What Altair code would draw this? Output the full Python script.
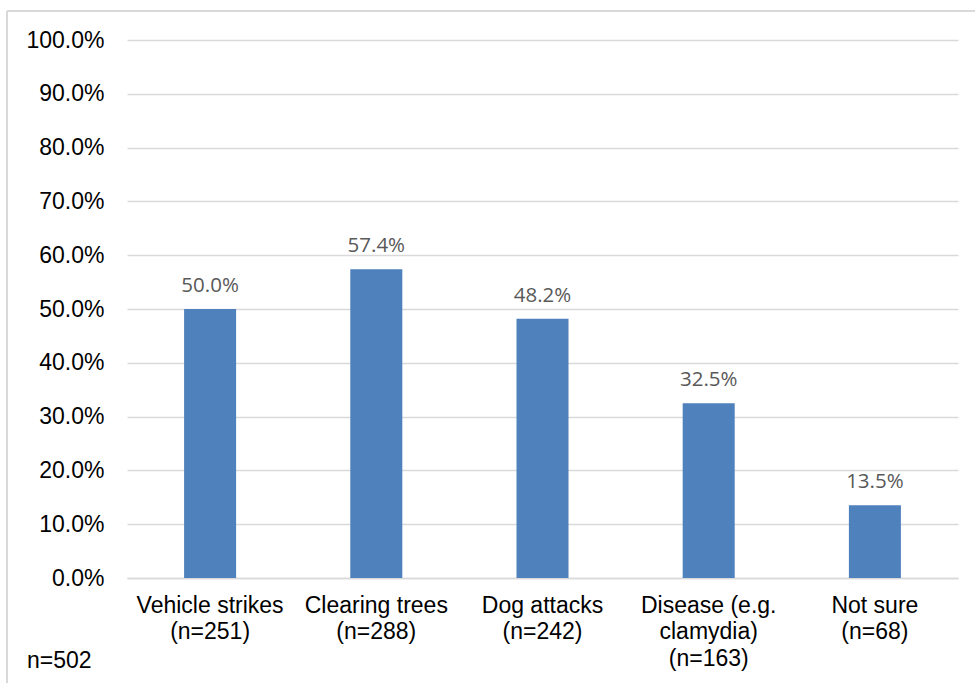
import altair as alt
import pandas as pd

# Survey responses: perceived threats to koalas
categories = [
    "Vehicle strikes|(n=251)",
    "Clearing trees|(n=288)",
    "Dog attacks|(n=242)",
    "Disease (e.g.|clamydia)|(n=163)",
    "Not sure|(n=68)",
]
shares = [0.500, 0.574, 0.482, 0.325, 0.135]
sample_note = "n=502"

df = pd.DataFrame({"category": categories, "share": shares})

W, H = 831, 538
LEFT, TOP = 127, 40

x_enc = alt.X(
    "category:N",
    sort=categories,
    title=None,
    scale=alt.Scale(paddingInner=0.687, paddingOuter=0.3435),
    axis=alt.Axis(
        labelExpr="split(datum.label, '|')",
        labelAngle=0,
        labelFont="Liberation Sans",
        labelFontSize=23,
        labelColor="#000000",
        labelLineHeight=26.5,
        labelPadding=16,
        labelBaseline="top",
        ticks=False,
        domainColor="#d9d9d9",
        domainWidth=1.3,
        grid=False,
    ),
)

y_enc = alt.Y(
    "share:Q",
    title=None,
    scale=alt.Scale(domain=[0, 1], nice=False),
    axis=alt.Axis(
        values=[i / 10 for i in range(11)],
        format=".1%",
        labelFont="Liberation Sans",
        labelFontSize=23,
        labelColor="#000000",
        labelPadding=23,
        ticks=False,
        domain=False,
        gridColor="#d9d9d9",
        gridWidth=1.3,
    ),
)

bars = alt.Chart(df).mark_bar(color="#4f81bd").encode(x=x_enc, y=y_enc)

labels = alt.Chart(df).mark_text(
    baseline="alphabetic",
    dy=-17,
    font="Open Sans",
    fontSize=20.5,
    color="#595959",
).encode(
    x=alt.X("category:N", sort=categories),
    y="share:Q",
    text=alt.Text("share:Q", format=".1%"),
)

note = alt.Chart(pd.DataFrame({"t": [sample_note]})).mark_text(
    align="left",
    baseline="alphabetic",
    font="Liberation Sans",
    fontSize=23,
    color="#000000",
).encode(x=alt.value(27 - LEFT), y=alt.value(668 - TOP), text="t:N")

# Light frame along the top and left edges
frame_top = alt.Chart(pd.DataFrame({"k": [0]})).mark_rule(
    color="#d9d9d9", strokeWidth=2
).encode(x=alt.value(7 - LEFT), x2=alt.value(975 - LEFT + 5), y=alt.value(11 - TOP))
frame_left = alt.Chart(pd.DataFrame({"k": [0]})).mark_rule(
    color="#d9d9d9", strokeWidth=2
).encode(x=alt.value(7 - LEFT), y=alt.value(11 - TOP), y2=alt.value(683 - TOP + 5))

chart = (
    alt.layer(frame_top, frame_left, bars, labels, note)
    .properties(
        width=W,
        height=H,
        autosize=alt.AutoSizeParams(type="none"),
        padding={"left": LEFT, "top": TOP, "right": 975 - LEFT - W, "bottom": 683 - TOP - H},
        background="white",
    )
    .configure_view(stroke=None)
)

chart.save("out.html", embed_options={"renderer": "svg", "actions": False})
